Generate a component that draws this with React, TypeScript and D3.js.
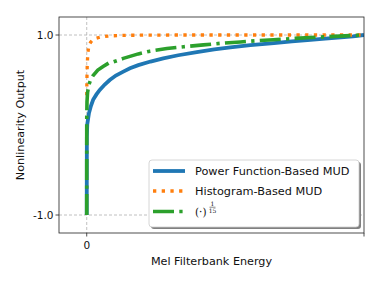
import React from "react";
import * as d3 from "d3";

const blueX = [0, 0.0005, 0.002, 0.008, 0.015, 0.023, 0.035, 0.047, 0.065, 0.083, 0.105, 0.132, 0.156, 0.186, 0.23, 0.276, 0.33, 0.397, 0.46, 0.518, 0.59, 0.675, 0.74, 0.796, 0.86, 0.917, 0.96, 1.0];
const blueY = [-1, -0.13, 0.01, 0.13, 0.21, 0.28, 0.34, 0.39, 0.45, 0.5, 0.55, 0.593, 0.63, 0.665, 0.705, 0.741, 0.775, 0.81, 0.84, 0.863, 0.887, 0.91, 0.93, 0.944, 0.96, 0.973, 0.985, 1.0];

const orangeX = [0, 0.0005, 0.001, 0.002, 0.004, 0.008, 0.014, 0.02, 0.035, 0.053, 0.083, 0.15, 0.3, 0.6, 1.0];
const orangeY = [0.33, 0.45, 0.55, 0.68, 0.8, 0.88, 0.92, 0.94, 0.965, 0.98, 0.99, 0.997, 1.0, 1.0, 1.0];

const greenX = [0, 0.00001, 0.0001, 0.001, 0.003, 0.008, 0.015, 0.023, 0.04, 0.059, 0.08, 0.095, 0.132, 0.186, 0.228, 0.289, 0.35, 0.421, 0.49, 0.554, 0.62, 0.674, 0.75, 0.855, 0.93, 1.0];
const greenY = [-1, -0.07, 0.08, 0.26, 0.36, 0.45, 0.51, 0.55, 0.61, 0.65, 0.69, 0.7, 0.74, 0.79, 0.82, 0.85, 0.87, 0.89, 0.91, 0.923, 0.938, 0.948, 0.962, 0.979, 0.99, 1.0];

const yTicks = [-1.0, 1.0];
const xTicks = [0];
const seriesNames = ["Power Function-Based MUD", "Histogram-Based MUD"];

const W = 381, H = 286;
const L = 59, R = 364, T = 17, B = 233;
const FONT = "DejaVu Sans";

export default function App() {
  const x = d3.scaleLinear().domain([-0.1, 1.0]).range([L, R]);
  const y = d3.scaleLinear().domain([-1.2, 1.2]).range([B, T]);
  const mk = (xs: number[], ys: number[]) =>
    d3.line<number>().x((_, i) => x(xs[i])).y((_, i) => y(ys[i]))(xs.map((_, i) => i)) || "";

  const lx = 149, ly = 160, lw = 210, lh = 67;
  return (
    <svg width={W} height={H} style={{ position: "absolute", left: 0, top: 0 }} fontFamily={FONT}>
      <rect width={W} height={H} fill="white" />
      <defs>
        <clipPath id="pc"><rect x={L} y={T} width={R - L} height={B - T} /></clipPath>
      </defs>
      {yTicks.map((t) => (
        <line key={"gy" + t} x1={L} x2={R} y1={y(t)} y2={y(t)} stroke="#b0b0b0" strokeWidth={0.8} strokeDasharray="3,2" />
      ))}
      {xTicks.map((t) => (
        <line key={"gx" + t} x1={x(t)} x2={x(t)} y1={T} y2={B} stroke="#b0b0b0" strokeWidth={0.8} strokeDasharray="3,2" />
      ))}
      <g clipPath="url(#pc)" fill="none">
        <path d={mk(blueX, blueY)} stroke="#1f77b4" strokeWidth={3.8} />
        <path d={mk(orangeX, orangeY)} stroke="#ff7f0e" strokeWidth={3.3} strokeDasharray="3.3,5.4" />
        <path d={mk(greenX, greenY)} stroke="#2ca02c" strokeWidth={3.6} strokeDasharray="21,5.3,3.3,5.3" />
      </g>
      <rect x={L} y={T} width={R - L} height={B - T} fill="none" stroke="#222" strokeWidth={0.8} />
      {yTicks.map((t) => (
        <g key={"ty" + t}>
          <line x1={L - 3.5} x2={L} y1={y(t)} y2={y(t)} stroke="#222" strokeWidth={0.8} />
          <text x={L - 5.5} y={y(t) + 3.8} fontSize={10.5} textAnchor="end" fill="#111">{t.toFixed(1)}</text>
        </g>
      ))}
      {xTicks.map((t) => (
        <g key={"tx" + t}>
          <line x1={x(t)} x2={x(t)} y1={B} y2={B + 3.5} stroke="#222" strokeWidth={0.8} />
          <text x={x(t)} y={B + 15.5} fontSize={10.5} textAnchor="middle" fill="#111">{t}</text>
        </g>
      ))}
      <line x1={x(1)} x2={x(1)} y1={B} y2={B + 3.5} stroke="#222" strokeWidth={0.8} />
      <text x={(L + R) / 2} y={265} fontSize={11.2} textAnchor="middle" fill="#111">Mel Filterbank Energy</text>
      <text transform={`translate(24,${(T + B) / 2}) rotate(-90)`} fontSize={11.2} textAnchor="middle" fill="#111">Nonlinearity Output</text>
      <rect x={lx + 2} y={ly + 2} width={lw} height={lh} rx={3} fill="#808080" />
      <rect x={lx} y={ly} width={lw} height={lh} rx={3} fill="white" stroke="#cccccc" strokeWidth={0.8} />
      <line x1={153} x2={185} y1={171} y2={171} stroke="#1f77b4" strokeWidth={3.8} />
      <text x={195} y={175} fontSize={11.3} fill="#111">{seriesNames[0]}</text>
      <line x1={153} x2={185} y1={191} y2={191} stroke="#ff7f0e" strokeWidth={3.3} strokeDasharray="3.3,5.4" />
      <text x={195} y={195} fontSize={11.3} fill="#111">{seriesNames[1]}</text>
      <line x1={153} x2={185} y1={211.5} y2={211.5} stroke="#2ca02c" strokeWidth={3.6} strokeDasharray="21,5.3,3.3,5.3" />
      <text x={195} y={216} fontSize={10.5} fontFamily="DejaVu Serif" fill="#111">(·)</text>
      <text x={212.5} y={205.5} fontSize={6} fontFamily="DejaVu Serif" textAnchor="middle" fill="#111">1</text>
      <line x1={209.5} x2={215.5} y1={207.2} y2={207.2} stroke="#111" strokeWidth={0.5} />
      <text x={212.5} y={212.5} fontSize={6} fontFamily="DejaVu Serif" textAnchor="middle" fill="#111">15</text>
    </svg>
  );
}
